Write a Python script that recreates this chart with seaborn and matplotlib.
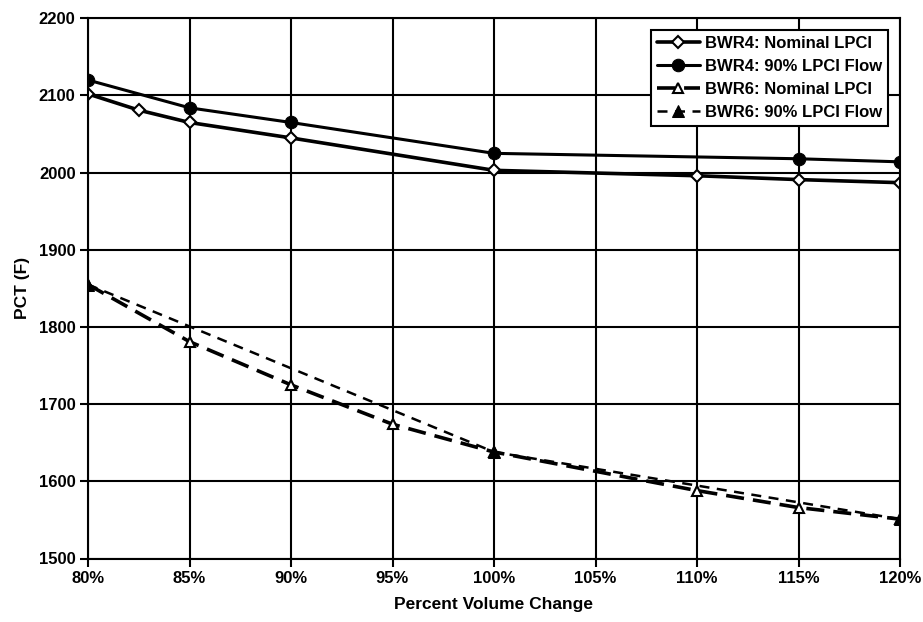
import matplotlib
matplotlib.use("Agg")
import matplotlib.pyplot as plt
import seaborn as sns
import pandas as pd

# ---- data ----
bwr4_nom_x = [80, 82.5, 85, 90, 100, 110, 115, 120]
bwr4_nom_y = [2102, 2081, 2065, 2045, 2003, 1996, 1991, 1987]

bwr4_90_x = [80, 85, 90, 100, 115, 120]
bwr4_90_y = [2120, 2084, 2065, 2025, 2018, 2014]

bwr6_nom_x = [80, 85, 90, 95, 100, 110, 115, 120]
bwr6_nom_y = [1855, 1781, 1725, 1674, 1638, 1588, 1566, 1551]

bwr6_90_x = [80, 100, 120]
bwr6_90_y = [1855, 1638, 1551]

labels = ["BWR4: Nominal LPCI", "BWR4: 90% LPCI Flow",
          "BWR6: Nominal LPCI", "BWR6: 90% LPCI Flow"]
x_ticks = [80, 85, 90, 95, 100, 105, 110, 115, 120]
y_ticks = [1500, 1600, 1700, 1800, 1900, 2000, 2100, 2200]

sns.set_theme(style="white")
plt.rcParams['font.family'] = ['Liberation Sans', 'DejaVu Sans']
plt.rcParams['font.weight'] = 'bold'
plt.rcParams['text.color'] = 'black'
plt.rcParams['axes.labelcolor'] = 'black'
plt.rcParams['xtick.color'] = 'black'
plt.rcParams['ytick.color'] = 'black'

fig = plt.figure(figsize=(9.23, 6.22), dpi=100)
ax = fig.add_axes([88/923, 1-558.5/622, (900-88)/923, (558.5-18.3)/622])

sns.lineplot(x=bwr4_nom_x, y=bwr4_nom_y, ax=ax, color="black", lw=2.6,
             marker="D", markersize=6.5, markerfacecolor="white",
             markeredgecolor="black", markeredgewidth=1.5, label=labels[0])
sns.lineplot(x=bwr4_90_x, y=bwr4_90_y, ax=ax, color="black", lw=2.2,
             marker="o", markersize=9, markerfacecolor="black",
             markeredgecolor="black", label=labels[1])
sns.lineplot(x=bwr6_nom_x, y=bwr6_nom_y, ax=ax, color="black", lw=2.6,
             linestyle=(0, (5, 2.5)),
             marker="^", markersize=7, markerfacecolor="white",
             markeredgecolor="black", markeredgewidth=1.5, label=labels[2])
sns.lineplot(x=bwr6_90_x, y=bwr6_90_y, ax=ax, color="black", lw=1.8,
             linestyle=(0, (4, 3)),
             marker="^", markersize=8.5, markerfacecolor="black",
             markeredgecolor="black", label=labels[3])

ax.set_xlim(80, 120)
ax.set_ylim(1500, 2200)
ax.set_xticks(x_ticks)
ax.set_xticklabels([f"{t}%" for t in x_ticks])
ax.set_yticks(y_ticks)
ax.grid(True, color="black", lw=1.5)
ax.set_axisbelow(True)
for s in ax.spines.values():
    s.set_color("black")
    s.set_linewidth(1.5)
ax.tick_params(axis="both", direction="out", length=6, width=1.5,
               color="black", labelcolor="black", labelsize=12, pad=3,
               bottom=True, left=True)
for lab in ax.get_xticklabels() + ax.get_yticklabels():
    lab.set_fontweight("bold")

ax.set_xlabel("Percent Volume Change", fontsize=12.5, fontweight="bold",
              labelpad=8, color="black")
ax.set_ylabel("PCT (F)", fontsize=12.5, fontweight="bold", labelpad=6,
              color="black")

leg = ax.legend(loc="upper right", bbox_to_anchor=((888-88)/812, 1-(30-18.3)/540.2),
                frameon=True, fancybox=False, fontsize=12, handlelength=2.6,
                handletextpad=0.3, borderpad=0.35, labelspacing=0.48,
                borderaxespad=0)
leg.get_frame().set_edgecolor("black")
leg.get_frame().set_linewidth(1.5)
leg.get_frame().set_alpha(1)
for t in leg.get_texts():
    t.set_fontweight("bold")
    t.set_color("black")

fig.savefig("out.png", dpi=100)
